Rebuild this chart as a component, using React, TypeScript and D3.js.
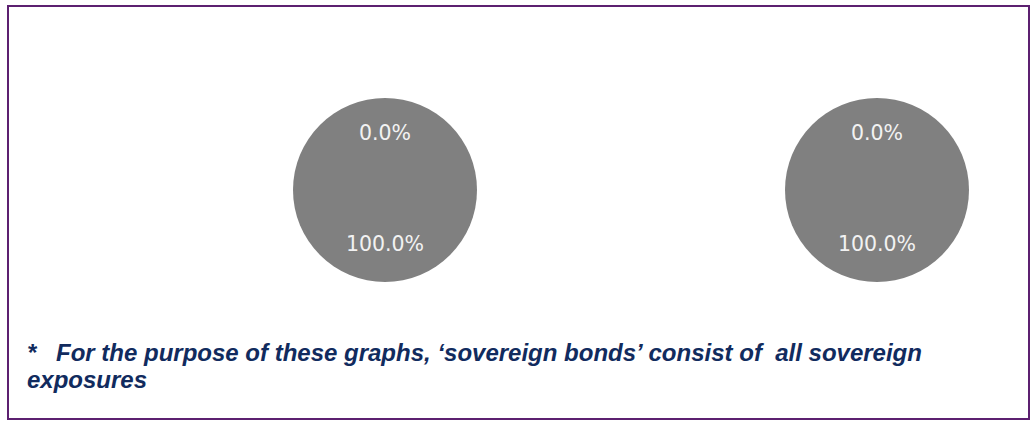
import React from "react";
import * as d3 from "d3";

const sliceNames = ["Sovereign bonds", "Other"];
const leftShares = [0, 100];
const rightShares = [0, 100];
const pieSeries = [leftShares, rightShares];
const sliceColors = ["#4f81bd", "#808080"];
const footLine1 = "For the purpose of these graphs, \u2018sovereign bonds\u2019 consist of  all sovereign";
const footLine2 = "exposures";

const W = 1030;
const H = 421;

export default function App() {
  const centersX = [385, 877];
  const cy = 190;
  const r = 92;
  const pie = d3.pie<number>().sort(null).startAngle(0).endAngle(2 * Math.PI);
  const arc = d3.arc<d3.PieArcDatum<number>>().innerRadius(0).outerRadius(r);
  const labelArc = d3.arc<d3.PieArcDatum<number>>().innerRadius(r * 0.6).outerRadius(r * 0.6);
  const fmt = d3.format(".1f");
  return (
    <svg width={W} height={H} style={{ position: "absolute", left: 0, top: 0 }}>
      <rect x={0} y={0} width={W} height={H} fill="#fff" />
      <rect x={8} y={6} width={1021} height={413} fill="none" stroke="#5c2070" strokeWidth={2} />
      {pieSeries.map((vals, i) => {
        const arcs = pie(vals);
        return (
          <g key={i} transform={`translate(${centersX[i]},${cy})`}>
            {arcs.map((a, j) =>
              a.endAngle - a.startAngle > 0 ? (
                <path key={j} d={arc(a) || ""} fill={sliceColors[j]}>
                  <title>{sliceNames[j]}</title>
                </path>
              ) : null
            )}
            {arcs.map((a, j) => {
              const [lx, ly] = labelArc.centroid(a);
              return (
                <text
                  key={"l" + j}
                  x={lx}
                  y={ly - 1.5}
                  textAnchor="middle"
                  dominantBaseline="central"
                  fontFamily="DejaVu Sans"
                  fontSize={20.5}
                  fill="#f2f2f2"
                >
                  {fmt(vals[j]) + "%"}
                </text>
              );
            })}
          </g>
        );
      })}
      <g fontFamily="Liberation Sans, Arial" fontWeight="bold" fontStyle="italic" fontSize={24} fill="#112b5e">
        <text x={27} y={361}>*</text>
        <text x={56} y={361} xmlSpace="preserve">{footLine1.replace(/  /g, " \u00a0")}</text>
        <text x={27} y={388}>{footLine2}</text>
      </g>
    </svg>
  );
}
